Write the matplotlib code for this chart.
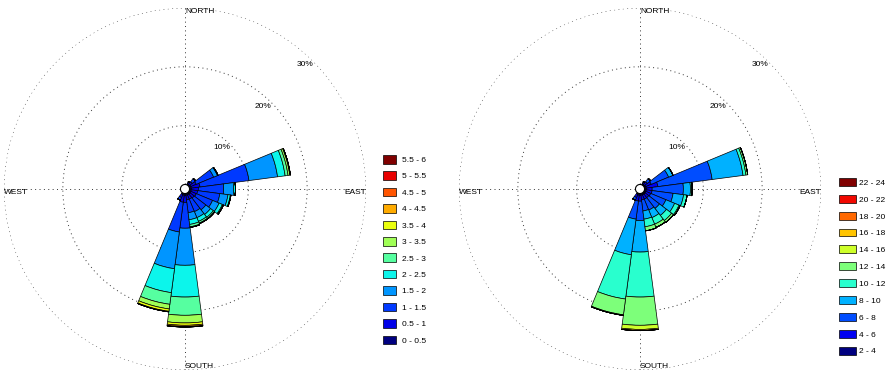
import numpy as np
import matplotlib
matplotlib.use('Agg')
import matplotlib.pyplot as plt

plt.rcParams['font.family'] = ['Liberation Sans', 'DejaVu Sans']

# wind direction of every sector that has a bar (degrees, clockwise from north)
sectors = [30, 45, 60, 75, 90, 105, 120, 135, 150, 165, 180, 195, 210]
sector_width = 15

# left rose: speed classes and frequency (%) per sector, lowest class first
classes_left = ['0 - 0.5', '0.5 - 1', '1 - 1.5', '1.5 - 2', '2 - 2.5', '2.5 - 3',
                '3 - 3.5', '3.5 - 4', '4 - 4.5', '4.5 - 5', '5 - 5.5', '5.5 - 6']
freq_left = [
    [0.2, 0.4],                                        # 30
    [0.2, 0.6, 0.7],                                   # 45
    [0.3, 1.0, 3.2, 0.7, 0.1],                         # 60
    [0.3, 1.5, 8.4, 4.9, 1.3, 0.5, 0.3, 0.1],          # 75
    [0.3, 1.2, 4.3, 1.7, 0.3],                         # 90
    [0.3, 1.1, 3.8, 1.4, 0.4, 0.1],                    # 105
    [0.3, 1.0, 3.0, 1.2, 0.6, 0.2],                    # 120
    [0.3, 0.9, 2.5, 1.0, 0.6, 0.3],                    # 135
    [0.3, 0.8, 2.3, 1.1, 0.7, 0.3, 0.1],               # 150
    [0.3, 0.8, 2.2, 1.2, 0.8, 0.4, 0.1],               # 165
    [0.3, 1.2, 4.4, 6.3, 5.4, 3.1, 1.3, 0.4, 0.2, 0.1],  # 180
    [0.3, 1.2, 5.1, 6.3, 4.1, 2.0, 0.8, 0.4, 0.1],     # 195
    [0.2, 0.6, 0.5],                                   # 210
]

# right rose
classes_right = ['2 - 4', '4 - 6', '6 - 8', '8 - 10', '10 - 12', '12 - 14',
                 '14 - 16', '16 - 18', '18 - 20', '20 - 22', '22 - 24']
freq_right = [
    [0.2, 0.4],                                        # 30
    [0.2, 0.6, 0.7],                                   # 45
    [0.3, 1.0, 3.2, 0.8],                              # 60
    [0.3, 2.0, 9.3, 5.3, 0.5, 0.3],                    # 75
    [0.3, 1.0, 5.3, 1.2, 0.3],                         # 90
    [0.3, 1.0, 3.6, 1.8, 0.6],                         # 105
    [0.3, 0.9, 2.8, 1.6, 0.8, 0.2],                    # 120
    [0.3, 0.8, 2.3, 1.5, 1.1, 0.4],                    # 135
    [0.3, 0.8, 2.0, 1.4, 1.2, 0.6],                    # 150
    [0.3, 0.8, 1.9, 1.4, 1.3, 0.7],                    # 165
    [0.3, 1.0, 3.3, 5.35, 7.65, 4.8, 0.7, 0.2],        # 180
    [0.3, 1.0, 3.1, 6.1, 7.6, 2.7, 0.1],               # 195
    [0.2, 0.6, 0.5],                                   # 210
]

rings = [10, 20, 30]
fs = 6


def draw_rose(ax, freq, classes):
    n = len(classes)
    colors = plt.cm.jet(np.linspace(0, 1, n))
    table = np.zeros((len(sectors), n))
    for i, row in enumerate(freq):
        table[i, :len(row)] = row
    theta = np.deg2rad(sectors)
    bottom = np.zeros(len(sectors))
    handles = []
    for k in range(n):
        h = ax.bar(theta, table[:, k], width=np.deg2rad(sector_width), bottom=bottom,
                   color=colors[k], edgecolor='k', linewidth=0.5, label=classes[k])
        bottom += table[:, k]
        handles.append(h)

    ax.set_theta_zero_location('N')
    ax.set_theta_direction(-1)
    ax.set_ylim(0, rings[-1])
    ax.set_rorigin(-0.77)
    ax.set_rgrids(rings, labels=[''] * len(rings))
    ax.set_thetagrids([0, 90, 180, 270], labels=[''] * 4)
    ax.grid(True, color='#333333', linestyle=(0, (1, 3.5)), linewidth=0.7)
    ax.set_axisbelow(True)
    ax.spines['polar'].set_visible(False)
    ax.spines['inner'].set_linewidth(0.8)

    R = rings[-1]
    ax.text(0, R, 'NORTH', ha='left', va='top', fontsize=fs)
    ax.text(np.pi, R, 'SOUTH', ha='left', va='bottom', fontsize=fs)
    ax.text(1.5 * np.pi, R, 'WEST', ha='left', va='top', fontsize=fs)
    ax.text(0.5 * np.pi, R, 'EAST', ha='right', va='top', fontsize=fs)
    for r in rings:
        ax.text(np.deg2rad(45), r, '%d%%' % r, ha='right', va='top', fontsize=fs)
    return handles


W, H = 887, 375
fig = plt.figure(figsize=(W / 100, H / 100), dpi=100)

ax1 = fig.add_axes([4 / W, 5 / H, 362 / W, 362 / H], projection='polar')
h1 = draw_rose(ax1, freq_left, classes_left)
fig.legend(h1[::-1], classes_left[::-1], loc='upper left',
           bbox_to_anchor=(383 / W, 1 - 155 / H), frameon=False, fontsize=fs,
           borderpad=0, borderaxespad=0, handlelength=1.56, handleheight=1.2,
           labelspacing=0.88, handletextpad=0.7)

ax2 = fig.add_axes([459 / W, 5 / H, 362 / W, 362 / H], projection='polar')
h2 = draw_rose(ax2, freq_right, classes_right)
fig.legend(h2[::-1], classes_right[::-1], loc='upper left',
           bbox_to_anchor=(839 / W, 1 - 178 / H), frameon=False, fontsize=fs,
           borderpad=0, borderaxespad=0, handlelength=2.0, handleheight=1.08,
           labelspacing=0.97, handletextpad=0.36)

fig.savefig('out.png', dpi=100)
